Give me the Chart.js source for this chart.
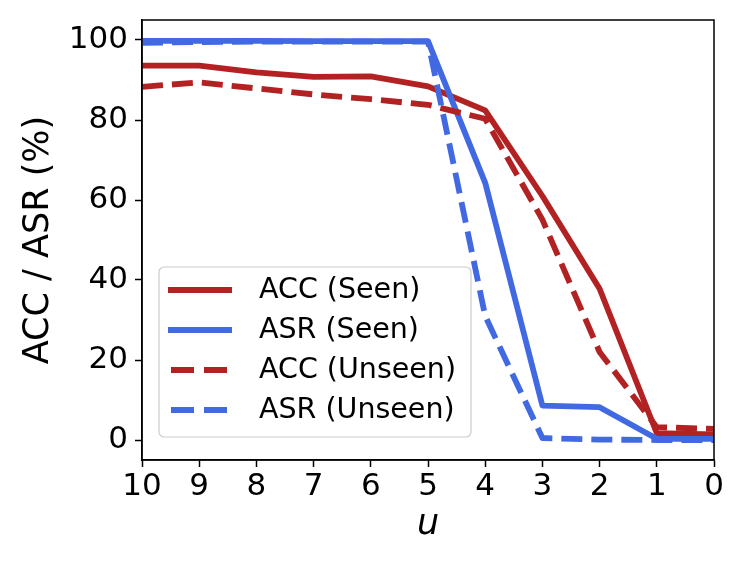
<!DOCTYPE html>
<html>
<head>
<meta charset="utf-8">
<script src="https://cdn.jsdelivr.net/npm/chart.js@4.4.1/dist/chart.umd.min.js"></script>
<style>
  html, body { margin: 0; padding: 0; background: #fff; }
  #wrap { width: 747px; height: 565px; }
</style>
</head>
<body>
<div id="wrap"><canvas id="uChart" width="747" height="565"></canvas></div>
<script>
// values (u goes 10 -> 0)
const uValues  = [10, 9, 8, 7, 6, 5, 4, 3, 2, 1, 0];
const accSeen   = [93.6, 93.6, 91.9, 90.8, 90.9, 88.4, 82.4, 61.0, 37.8, 1.7, 1.4];
const asrSeen   = [99.8, 99.8, 99.8, 99.7, 99.7, 99.7, 64.3, 8.6, 8.2, 0.3, 0.3];
const accUnseen = [88.3, 89.4, 87.9, 86.4, 85.2, 83.8, 80.3, 55.1, 22.0, 3.2, 2.8];
const asrUnseen = [99.3, 99.5, 99.6, 99.6, 99.6, 99.6, 31.0, 0.5, 0.1, 0.0, 0.0];
const seriesNames = ['ACC (Seen)', 'ASR (Seen)', 'ACC (Unseen)', 'ASR (Unseen)'];
const xTicks = [10, 9, 8, 7, 6, 5, 4, 3, 2, 1, 0];
const yTicks = [0, 20, 40, 60, 80, 100];

const RED = '#b22222';
const BLUE = '#4169e1';
const DASH = [21, 9];

Chart.defaults.font.family = '"DejaVu Sans", sans-serif';
Chart.defaults.color = '#000';

function toPoints(vals) {
  return uValues.map((u, i) => ({ x: u, y: vals[i] }));
}

function line(label, vals, color, dash, order) {
  return {
    label: label,
    data: toPoints(vals),
    borderColor: color,
    backgroundColor: color,
    borderWidth: 5.8,
    borderDash: dash,
    borderJoinStyle: 'round',
    pointRadius: 0,
    tension: 0,
    fill: false,
    order: order
  };
}

// top/right spines
const framePlugin = {
  id: 'frame',
  afterDraw(chart) {
    const { ctx, chartArea: a } = chart;
    ctx.save();
    ctx.strokeStyle = '#000';
    ctx.lineWidth = 1.5;
    ctx.strokeRect(a.left, a.top, a.right - a.left, a.bottom - a.top);
    ctx.restore();
  }
};

// legend sitting inside the plot, lower left
const legendPlugin = {
  id: 'insideLegend',
  afterDraw(chart) {
    const { ctx, chartArea: a } = chart;
    const x0 = a.left + 17, y0 = a.bottom - 193;
    ctx.save();
    ctx.beginPath();
    ctx.roundRect(x0, y0, 312, 170, 5);
    ctx.fillStyle = 'rgba(255,255,255,0.8)';
    ctx.fill();
    ctx.strokeStyle = '#cccccc';
    ctx.lineWidth = 1.2;
    ctx.stroke();
    chart.data.datasets.forEach((ds, i) => {
      const y = y0 + 23 + i * 40;
      const dashed = ds.borderDash && ds.borderDash.length;
      ctx.beginPath();
      ctx.setLineDash(dashed ? [23, 10] : []);
      ctx.strokeStyle = ds.borderColor;
      ctx.lineWidth = ds.borderWidth;
      ctx.moveTo(x0 + (dashed ? 12 : 9), y);
      ctx.lineTo(x0 + (dashed ? 68 : 73), y);
      ctx.stroke();
      ctx.setLineDash([]);
      ctx.fillStyle = '#000';
      ctx.font = '28.5px "DejaVu Sans"';
      ctx.textBaseline = 'middle';
      ctx.fillText(ds.label, x0 + 100, y + 1);
    });
    ctx.restore();
  }
};

const tickGrid = {
  display: true,
  drawOnChartArea: false,
  drawTicks: true,
  tickLength: 7,
  tickWidth: 1.5,
  tickColor: '#000'
};

new Chart(document.getElementById('uChart').getContext('2d'), {
  type: 'line',
  data: {
    datasets: [
      line(seriesNames[0], accSeen, RED, [], 3),
      line(seriesNames[1], asrSeen, BLUE, [], 2),
      line(seriesNames[2], accUnseen, RED, DASH, 1),
      line(seriesNames[3], asrUnseen, BLUE, DASH, 0)
    ]
  },
  options: {
    responsive: false,
    animation: false,
    layout: { padding: { left: 0, top: 20, right: 33, bottom: 0 } },
    plugins: {
      legend: { display: false },
      tooltip: { enabled: false }
    },
    scales: {
      x: {
        type: 'linear',
        reverse: true,
        min: 0,
        max: 10,
        afterBuildTicks: s => { s.ticks = xTicks.map(v => ({ value: v })); },
        afterFit: s => { s.height = 105; s.paddingLeft = 0; s.paddingRight = 0; },
        grid: tickGrid,
        border: { display: true, color: '#000', width: 1.5 },
        ticks: { color: '#000', font: { size: 31 }, padding: 1, maxRotation: 0, autoSkip: false },
        title: {
          display: true,
          text: 'u',
          color: '#000',
          font: { size: 35, style: 'italic' },
          padding: { top: 0, bottom: 19 }
        }
      },
      y: {
        min: -5,
        max: 105,
        afterBuildTicks: s => { s.ticks = yTicks.map(v => ({ value: v })); },
        afterFit: s => { s.width = 142; s.paddingTop = 0; s.paddingBottom = 0; },
        grid: tickGrid,
        border: { display: true, color: '#000', width: 1.5 },
        ticks: { color: '#000', font: { size: 31 }, padding: 7 },
        title: {
          display: true,
          text: 'ACC / ASR (%)',
          color: '#000',
          font: { size: 35 },
          padding: { top: 17.5, bottom: 0 }
        }
      }
    }
  },
  plugins: [framePlugin, legendPlugin]
});
</script>
</body>
</html>
